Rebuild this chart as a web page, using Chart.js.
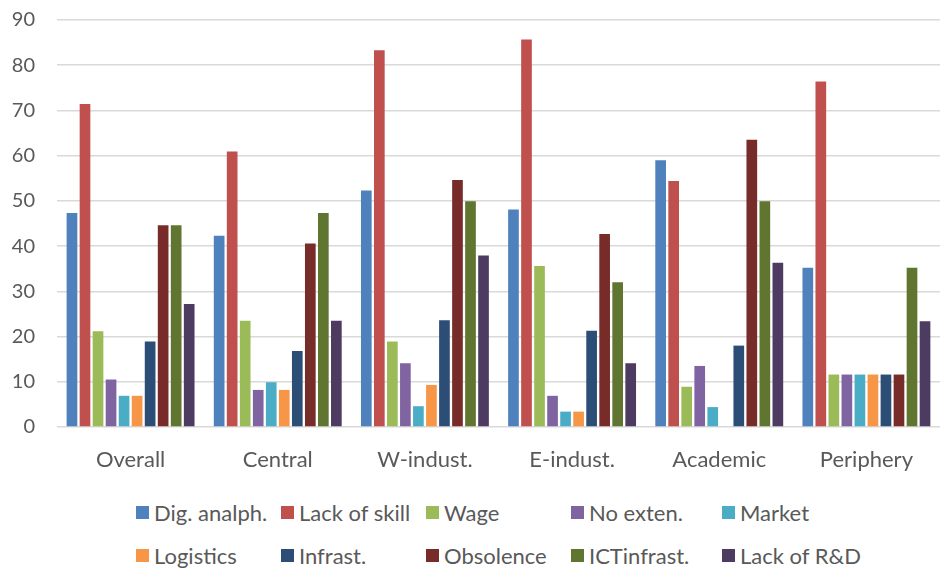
<!DOCTYPE html>
<html>
<head>
<meta charset="utf-8">
<script src="https://cdn.jsdelivr.net/npm/chart.js@4"></script>
<style>
  html, body { margin: 0; padding: 0; background: #fff; }
  #wrap { position: relative; width: 940px; height: 570px; overflow: hidden; }
  #box { position: absolute; left: 0; top: 0; width: 940px; height: 480px; }
  #legend {
    position: absolute; left: 136px; top: 491px;
    display: grid; grid-template-columns: 145px 145px 145px 151px auto;
    grid-auto-rows: 43px; font: 22px Lato, sans-serif; color: #595959;
  }
  #legend .item { display: flex; align-items: center; white-space: nowrap; }
  #legend .sw { width: 13px; height: 13px; margin-right: 5px; flex: none; }
</style>
</head>
<body>
<div id="wrap">
  <div id="box"><canvas id="chart"></canvas></div>
  <div id="legend"></div>
</div>
<script>
// DATA
const categories = ["Overall", "Central", "W-indust.", "E-indust.", "Academic", "Periphery"];
const yTicks = [0, 10, 20, 30, 40, 50, 60, 70, 80, 90];

const digAnalph   = [47.3, 42.3, 52.3, 48.1, 59.0, 35.2];
const lackOfSkill = [71.4, 60.9, 83.3, 85.7, 54.4, 76.4];
const wage        = [21.2, 23.5, 18.9, 35.6, 8.9, 11.6];
const noExten     = [10.5, 8.2, 14.1, 6.9, 13.5, 11.6];
const market      = [6.9, 9.9, 4.6, 3.4, 4.4, 11.6];
const logistics   = [6.9, 8.2, 9.3, 3.4, null, 11.6];
const infrast     = [18.9, 16.8, 23.6, 21.3, 18.0, 11.6];
const obsolence   = [44.6, 40.6, 54.6, 42.7, 63.5, 11.6];
const ictInfrast  = [44.6, 47.3, 49.9, 32.0, 49.9, 35.2];
const lackOfRD    = [27.2, 23.5, 37.9, 14.1, 36.3, 23.4];

const seriesNames = ["Dig. analph.", "Lack of skill", "Wage", "No exten.", "Market",
                     "Logistics", "Infrast.", "Obsolence", "ICTinfrast.", "Lack of R&D"];
const seriesValues = [digAnalph, lackOfSkill, wage, noExten, market,
                      logistics, infrast, obsolence, ictInfrast, lackOfRD];
const colors = ["#4F81BD", "#C0504D", "#9BBB59", "#8064A2", "#4BACC6",
                "#F79646", "#2C4D75", "#772C2A", "#5F7530", "#4D3B62"];

Chart.defaults.font.family = "Lato, sans-serif";
Chart.defaults.font.size = 20;
Chart.defaults.color = "#595959";

const chart = new Chart(document.getElementById("chart"), {
    type: "bar",
    data: {
        labels: categories,
        datasets: seriesNames.map((name, i) => ({
            label: name,
            data: seriesValues[i],
            backgroundColor: colors[i],
            borderWidth: 0,
            categoryPercentage: 0.885,
            barPercentage: 0.82
        }))
    },
    options: {
        responsive: true,
        maintainAspectRatio: false,
        animation: false,
        layout: { padding: { top: 20, right: 0, bottom: 8, left: 0 } },
        plugins: { legend: { display: false }, tooltip: { enabled: false } },
        scales: {
            x: {
                grid: { display: false, drawTicks: false },
                border: { display: false },
                ticks: { padding: 20, font: { size: 22 } },
                afterFit: s => { s.height = 45; }
            },
            y: {
                min: 0, max: 90,
                afterBuildTicks: s => { s.ticks = yTicks.map(v => ({ value: v })); },
                grid: { color: "#d9d9d9", lineWidth: 1.5, drawTicks: false },
                border: { display: false },
                ticks: { padding: 22 },
                afterFit: s => {
                    s.width = 57;
                    // keep the tick padding from pushing the plot area down
                    s.paddingTop = 0;
                    s.paddingBottom = 0;
                }
            }
        }
    }
});

// HTML legend in Excel-like grid
const legendEl = document.getElementById("legend");
chart.data.datasets.forEach(ds => {
    const item = document.createElement("div");
    item.className = "item";
    const sw = document.createElement("span");
    sw.className = "sw";
    sw.style.background = ds.backgroundColor;
    const txt = document.createElement("span");
    txt.textContent = ds.label;
    item.appendChild(sw);
    item.appendChild(txt);
    legendEl.appendChild(item);
});
</script>
</body>
</html>
